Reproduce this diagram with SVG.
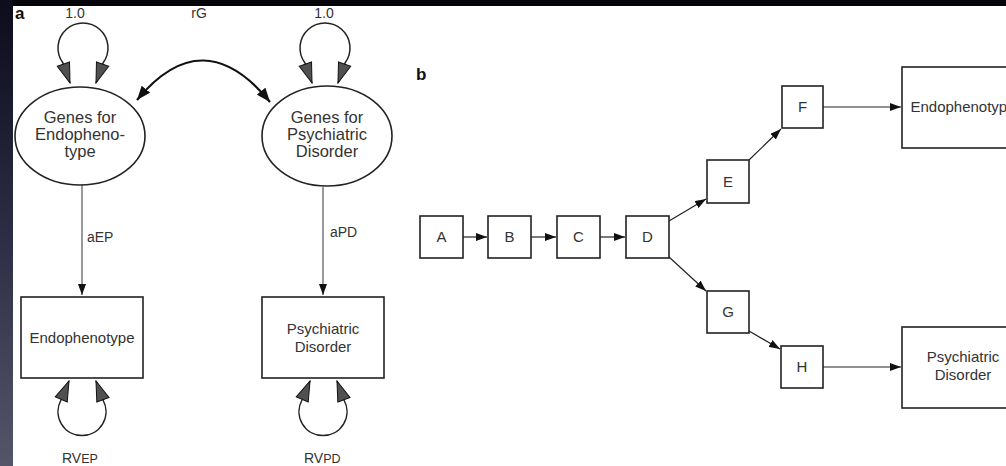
<svg xmlns="http://www.w3.org/2000/svg" width="1006" height="466" viewBox="0 0 1006 466">
<defs>
<linearGradient id="side" x1="0" y1="0" x2="0" y2="1">
<stop offset="0" stop-color="#0c0c1c"/>
<stop offset="0.5" stop-color="#2c2c44"/>
<stop offset="1" stop-color="#55556a"/>
</linearGradient>
<marker id="big" markerUnits="userSpaceOnUse" viewBox="-1 -1 22 15" refX="20" refY="6.5" markerWidth="22" markerHeight="15" orient="auto-start-reverse">
<path d="M0,0 L20,6.5 L0,13 z" fill="#505050" stroke="#111" stroke-width="1"/>
</marker>
<marker id="rg" markerUnits="userSpaceOnUse" viewBox="0 0 14 11" refX="14" refY="5.5" markerWidth="14" markerHeight="11" orient="auto-start-reverse">
<path d="M0,0 L14,5.5 L0,11 z" fill="#111"/>
</marker>
<marker id="ah" markerUnits="userSpaceOnUse" viewBox="0 0 11 8" refX="11" refY="4" markerWidth="11" markerHeight="8" orient="auto">
<path d="M0,0 L11,4 L0,8 z" fill="#111"/>
</marker>
</defs>
<style>
.t{font-family:"Liberation Sans",Arial,Helvetica,sans-serif;fill:#333;font-size:15px;text-anchor:middle}
.e{font-size:16.5px}
.lab{font-family:"Liberation Sans",Arial,Helvetica,sans-serif;fill:#333;font-size:14px}
.pl{font-family:"Liberation Sans",Arial,Helvetica,sans-serif;fill:#111;font-size:17px;font-weight:bold}
.box{fill:#fff;stroke:#222;stroke-width:1.6}
.ell{fill:#fff;stroke:#222;stroke-width:1.6}
.loop{fill:none;stroke:#222;stroke-width:1.5}
.line{fill:none;stroke:#555;stroke-width:1.2}
.bline{fill:none;stroke:#222;stroke-width:1.2}
</style>
<rect x="0" y="0" width="1006" height="466" fill="#fff"/>
<rect x="0" y="0" width="1006" height="6" fill="#05050a"/>
<rect x="0" y="0" width="13" height="466" fill="url(#side)"/>

<text class="pl" x="15" y="19">a</text>
<text class="pl" x="416" y="80">b</text>

<g id="connectors">
<path class="loop" d="M70,83 L63,63 A25,25 0 1 1 103,63 L96,83" marker-start="url(#big)" marker-end="url(#big)"/>
<path class="loop" d="M312,83 L305,63 A25,25 0 1 1 345,63 L338,83" marker-start="url(#big)" marker-end="url(#big)"/>
<path class="loop" d="M69,381 L61,400 A24,24 0 1 0 103,400 L96,381" marker-start="url(#big)" marker-end="url(#big)"/>
<path class="loop" d="M310,381 L302,400 A24,24 0 1 0 344,400 L337,381" marker-start="url(#big)" marker-end="url(#big)"/>
<path d="M137,100 Q203,20 270,102" fill="none" stroke="#111" stroke-width="2.2" marker-start="url(#rg)" marker-end="url(#rg)"/>
<path class="line" d="M82,185 L82,295" marker-end="url(#ah)"/>
<path class="line" d="M323,187 L323,295" marker-end="url(#ah)"/>
<path class="bline" d="M463,237 L487,237" marker-end="url(#ah)"/>
<path class="bline" d="M531,237 L556,237" marker-end="url(#ah)"/>
<path class="bline" d="M600,237 L625,237" marker-end="url(#ah)"/>
<path class="bline" d="M669,221 L706,199" marker-end="url(#ah)"/>
<path class="bline" d="M669,257 L706,291" marker-end="url(#ah)"/>
<path class="bline" d="M749,160 L781,129" marker-end="url(#ah)"/>
<path class="bline" d="M749,331 L780,349" marker-end="url(#ah)"/>
<path class="bline" d="M823,107 L901,107" marker-end="url(#ah)"/>
<path class="bline" d="M823,367 L901,367" marker-end="url(#ah)"/>
</g>

<text class="lab" x="75" y="18" text-anchor="middle">1.0</text>
<text class="lab" x="199" y="18" text-anchor="middle">rG</text>
<text class="lab" x="324" y="18" text-anchor="middle">1.0</text>
<text class="lab" x="87" y="242">aEP</text>
<text class="lab" x="330" y="237">aPD</text>
<text class="lab" x="62" y="463" font-size="15">RV<tspan font-size="12.5">EP</tspan></text>
<text class="lab" x="304" y="463" font-size="15">RV<tspan font-size="12.5">PD</tspan></text>

<g id="genesEP">
<ellipse class="ell" cx="80" cy="136" rx="65" ry="49"/>
<text class="t e" x="80" y="123">Genes for</text>
<text class="t e" x="80" y="140">Endopheno-</text>
<text class="t e" x="80" y="157">type</text>
</g>
<g id="genesPD">
<ellipse class="ell" cx="327" cy="136" rx="65" ry="50"/>
<text class="t e" x="327" y="123">Genes for</text>
<text class="t e" x="327" y="140">Psychiatric</text>
<text class="t e" x="327" y="157">Disorder</text>
</g>
<g id="endoA">
<rect class="box" x="21" y="297" width="122" height="81"/>
<text class="t" x="82" y="343">Endophenotype</text>
</g>
<g id="psychA">
<rect class="box" x="262" y="297" width="122" height="81"/>
<text class="t" x="323" y="334">Psychiatric</text>
<text class="t" x="323" y="352">Disorder</text>
</g>

<g id="A"><rect class="box" x="420" y="216" width="43" height="42"/><text class="t" x="441.5" y="242">A</text></g>
<g id="B"><rect class="box" x="488" y="216" width="43" height="42"/><text class="t" x="509.5" y="242">B</text></g>
<g id="C"><rect class="box" x="557" y="216" width="43" height="42"/><text class="t" x="578.5" y="242">C</text></g>
<g id="D"><rect class="box" x="626" y="216" width="43" height="42"/><text class="t" x="647.5" y="242">D</text></g>
<g id="E"><rect class="box" x="707" y="160" width="42" height="43"/><text class="t" x="728" y="187">E</text></g>
<g id="G"><rect class="box" x="707" y="291" width="42" height="42"/><text class="t" x="728" y="317">G</text></g>
<g id="F"><rect class="box" x="782" y="86" width="41" height="42"/><text class="t" x="802.5" y="112">F</text></g>
<g id="H"><rect class="box" x="781" y="346" width="42" height="42"/><text class="t" x="802" y="372">H</text></g>
<g id="endoB">
<rect class="box" x="902" y="67" width="122" height="81"/>
<text class="t" x="963" y="112">Endophenotype</text>
</g>
<g id="psychB">
<rect class="box" x="902" y="327" width="122" height="81"/>
<text class="t" x="963" y="362">Psychiatric</text>
<text class="t" x="963" y="380">Disorder</text>
</g>
</svg>
